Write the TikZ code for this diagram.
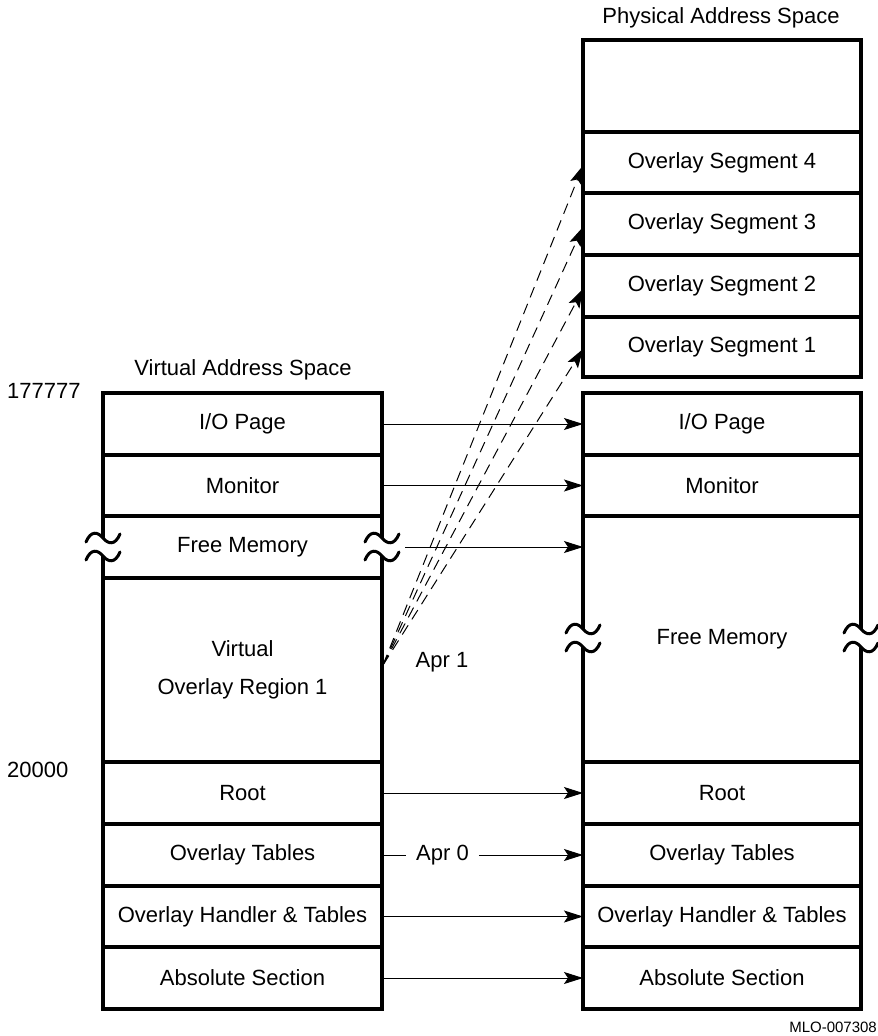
\documentclass[tikz,border=0pt]{standalone}
\usepackage{fontspec}
\setmainfont{Liberation Sans}
\usetikzlibrary{arrows.meta}
\begin{document}
\begin{tikzpicture}[x=1pt,y=-1pt,
  font=\fontsize{22}{26}\selectfont,
  memrow/.style={draw, line width=3.5pt, inner sep=0pt, outer sep=0pt, fill=white},
  lrow/.style={memrow, minimum width=279pt},
  rrow/.style={memrow, minimum width=278pt},
  plain/.style={inner sep=0pt},
  maparrow/.style={line width=1pt, -{Stealth[length=19pt,width=12pt,inset=4pt]}},
  ovlarrow/.style={line width=1pt, dash pattern=on 11pt off 7pt, -{Stealth[length=19pt,width=12pt,inset=4pt]}},
  brkmark/.pic={
    \fill[white] (-3,-9) rectangle (3,9);
    \draw[line width=3pt, line cap=round] (-17,-5) .. controls (-12,-17) and (-5,-15) .. (0,-9) .. controls (5,-3) and (12,-1) .. (17,-13);
    \draw[line width=3pt, line cap=round] (-17,13) .. controls (-12,1) and (-5,3) .. (0,9) .. controls (5,15) and (12,17) .. (17,5);
  }]
\useasboundingbox (0,0) rectangle (878,1036);

% headers and labels
\node[plain] (phys) at (721,18) {Physical Address Space};
\node[plain] (virt) at (243,370) {Virtual Address Space};
\node[plain, anchor=west] (n177) at (7,391) {177777};
\node[plain, anchor=west] (n200) at (7,770) {20000};
\node[plain, anchor=east, font=\fontsize{15}{18}\selectfont] (mlo) at (877,1027) {MLO-007308};

% virtual address space
\node[lrow, minimum height=62pt] (lio) at (242.5,424) {I/O Page};
\node[lrow, minimum height=61pt] (lmon) at (242.5,485.5) {Monitor};
\node[lrow, minimum height=62pt] (lfree) at (242.5,547) {Free Memory};
\node[lrow, minimum height=184pt, align=center] (lvor) at (242.5,670) {Virtual\\[12pt]Overlay Region 1};
\node[lrow, minimum height=62pt] (lroot) at (242.5,793) {Root};
\node[lrow, minimum height=62pt] (ltab) at (242.5,855) {Overlay Tables};
\node[lrow, minimum height=61pt] (lhand) at (242.5,916.5) {Overlay Handler \& Tables};
\node[lrow, minimum height=62pt] (labs) at (242.5,978) {Absolute Section};

% physical address space (lower)
\node[rrow, minimum height=62pt] (rio) at (722,424) {I/O Page};
\node[rrow, minimum height=61pt] (rmon) at (722,485.5) {Monitor};
\node[rrow, minimum height=246pt] (rfree) at (722,639) {Free Memory};
\node[rrow, minimum height=62pt] (rroot) at (722,793) {Root};
\node[rrow, minimum height=62pt] (rtab) at (722,855) {Overlay Tables};
\node[rrow, minimum height=61pt] (rhand) at (722,916.5) {Overlay Handler \& Tables};
\node[rrow, minimum height=62pt] (rabs) at (722,978) {Absolute Section};

% physical address space (upper)
\node[rrow, minimum height=92pt] (rtop) at (722,86) {};
\node[rrow, minimum height=61pt] (seg4) at (722,162.5) {Overlay Segment 4};
\node[rrow, minimum height=62pt] (seg3) at (722,224) {Overlay Segment 3};
\node[rrow, minimum height=62pt] (seg2) at (722,286) {Overlay Segment 2};
\node[rrow, minimum height=60pt] (seg1) at (722,347) {Overlay Segment 1};

% break marks
\pic at (lfree.west) {brkmark};
\pic at (lfree.east) {brkmark};
\pic at (583,638) {brkmark};
\pic at (861,638) {brkmark};

% mapping arrows
\draw[maparrow] (lio.east) -- (rio.west);
\draw[maparrow] (lmon.east) -- (rmon.west);
\draw[maparrow] ([xshift=23pt]lfree.east) -- (lfree.east -| rfree.west);
\draw[maparrow] (lroot.east) -- (rroot.west);
\node[inner xsep=10pt, inner ysep=0pt] (apr0) at (442.5,855) {Apr 0};
\draw[line width=1pt] (ltab.east) -- (apr0.west);
\draw[maparrow] (apr0.east) -- (rtab.west);
\draw[maparrow] (lhand.east) -- (rhand.west);
\draw[maparrow] (labs.east) -- (rabs.west);

% overlay arrows
\coordinate (a1) at (383,665);
\node[plain] (apr1) at (442,662) {Apr 1};
\draw[ovlarrow] (a1) -- ([yshift=-3pt]seg4.west);
\draw[ovlarrow] (a1) -- ([yshift=-3pt]seg3.west);
\draw[ovlarrow] (a1) -- ([yshift=-3pt]seg2.west);
\draw[ovlarrow] (a1) -- ([yshift=-2pt]seg1.west);
\end{tikzpicture}
\end{document}
